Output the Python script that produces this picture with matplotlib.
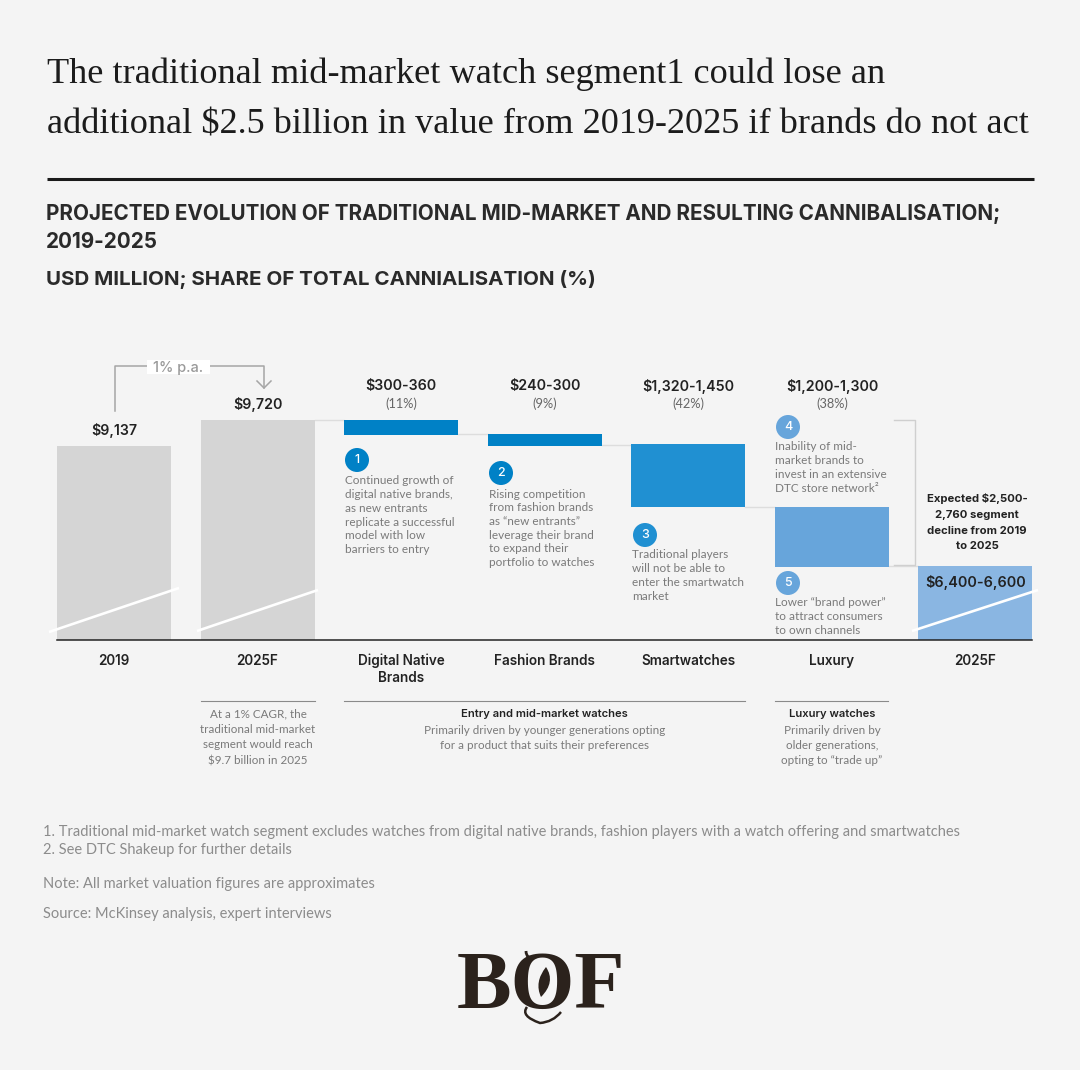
import matplotlib
matplotlib.use("Agg")
import matplotlib.pyplot as plt
from matplotlib.patches import Circle, PathPatch
from matplotlib.path import Path

# ---------- data ----------
categories = ["2019", "2025F", "Digital Native\nBrands", "Fashion Brands", "Smartwatches", "Luxury", "2025F"]
bar_tops = [9137, 9720, 9720, 9410, 9180, 7790, 6500]
bar_bottoms = [0, 0, 9390, 9155, 7790, 6480, 0]
bar_colors = ["#d5d5d5", "#d5d5d5", "#0081c6", "#0081c6", "#2090d2", "#67a5db", "#8ab6e2"]
value_labels = ["$9,137", "$9,720", "$300-360", "$240-300", "$1,320-1,450", "$1,200-1,300"]
share_labels = ["(11%)", "(9%)", "(42%)", "(38%)"]
final_label = "$6,400-6,600"
title_lines = ["The traditional mid-market watch segment1 could lose an",
               "additional $2.5 billion in value from 2019-2025 if brands do not act"]
heading_lines = ["PROJECTED EVOLUTION OF TRADITIONAL MID-MARKET AND RESULTING CANNIBALISATION;",
                 "2019-2025"]
subheading = "USD MILLION; SHARE OF TOTAL CANNIALISATION (%)"
notes = ["Continued growth of\ndigital native brands,\nas new entrants\nreplicate a successful\nmodel with low\nbarriers to entry",
         "Rising competition\nfrom fashion brands\nas “new entrants”\nleverage their brand\nto expand their\nportfolio to watches",
         "Traditional players\nwill not be able to\nenter the smartwatch\nmarket",
         "Inability of mid-\nmarket brands to\ninvest in an extensive\nDTC store network²",
         "Lower “brand power”\nto attract consumers\nto own channels"]
footnotes = ["1. Traditional mid-market watch segment excludes watches from digital native brands, fashion players with a watch offering and smartwatches",
             "2. See DTC Shakeup for further details"]
note_line = "Note: All market valuation figures are approximates"
source_line = "Source: McKinsey analysis, expert interviews"

# ---------- style ----------
W, H = 1080, 1070
BG = "#f4f4f4"
SANS = "Inter"
BODY = "Lato"
DARK = "#222222"
GREY = "#7a7a7a"
px = 0.72  # points per pixel at dpi 100

fig = plt.figure(figsize=(W / 100, H / 100), dpi=100, facecolor=BG)

# ---------- bar axes (px box 57..1032 x, 400..640 y) ----------
PITCH = 143.5
ax = fig.add_axes([57 / W, 1 - 640 / H, (1032 - 57) / W, 240 / H])
ax.set_facecolor("none")
ax.set_xlim(-(114 - 57) / PITCH, (1032 - 114) / PITCH)
SCALE = 0.0453
base = 9720 - 220 / SCALE
ax.set_ylim(base, base + 240 / SCALE)
xs = list(range(len(categories)))
for x, top, bot, col in zip(xs, bar_tops, bar_bottoms, bar_colors):
    b = max(bot, base)
    ax.bar(x, top - b, bottom=b, width=114 / PITCH, color=col, linewidth=0, zorder=2)
for s in ("left", "right", "top"):
    ax.spines[s].set_visible(False)
ax.spines["bottom"].set_color("#222222")
ax.spines["bottom"].set_linewidth(1.1)
ax.set_yticks([])
ax.set_xticks(xs)
ax.set_xticklabels(categories, fontsize=13.5 * px, fontfamily=SANS,
                   fontweight="semibold", color=DARK, linespacing=1.2)
ax.tick_params(axis="x", length=0, pad=10)
# connectors between waterfall steps
for i, lev in zip(range(1, 6), [9720, 9400, 9170, 7790, 6490]):
    ax.plot([i + 57 / PITCH, i + 1 - 57 / PITCH], [lev, lev], color="#dddddd", lw=1, zorder=1)

# ---------- overlay in pixel coordinates ----------
ov = fig.add_axes([0, 0, 1, 1], zorder=5)
ov.set_xlim(0, W)
ov.set_ylim(H, 0)
ov.axis("off")


def txt(x, y, s, size, family=SANS, weight="normal", color=DARK, ha="left", lh=None, **kw):
    for i, line in enumerate(s.split("\n")):
        ov.text(x, y + i * (lh or size * 1.2), line, fontsize=size * px, family=family,
                fontweight=weight, color=color, ha=ha, va="center", **kw)


# title, rule, headings
txt(47, 74.5, title_lines[0], 36.3, family="Liberation Serif", color="#1c1c1c")
txt(47, 124.5, title_lines[1], 36.3, family="Liberation Serif", color="#1c1c1c")
ov.plot([47, 1034], [179, 179], color="#1a1a1a", lw=2.2, solid_capstyle="butt")
txt(46, 213.5, heading_lines[0], 20.65, weight="bold", color="#2a2a2a")
txt(46, 241.5, heading_lines[1], 20.65, weight="bold", color="#2a2a2a")
txt(46, 279.5, subheading, 20.55, weight="bold", color="#2a2a2a")

# growth bracket
ov.plot([114.5, 114.5, 264, 264], [411, 366, 366, 388], color="#a5a5a5", lw=1.1)
ov.plot([257, 264, 271], [381, 388, 381], color="#a5a5a5", lw=1.1)
ov.add_patch(plt.Rectangle((147, 360), 63, 14, color="#ffffff", lw=0, zorder=3))
txt(178, 368, "1% p.a.", 14.5, color="#9a9a9a", ha="center", weight="medium", zorder=4)

# value labels
vl_pos = [(114, 430), (258, 405), (401, 386), (545, 386), (688, 386), (832, 386)]
for (x, y), s in zip(vl_pos, value_labels):
    txt(x, y, s, 14.2, weight="semibold", ha="center")
for (x, _), s in zip(vl_pos[2:], share_labels):
    txt(x, 404, s, 12.8, color="#666666", ha="center", family=BODY)
txt(975.5, 582, final_label, 14.4, weight="semibold", ha="center")
txt(977, 499, "Expected $2,500-\n2,760 segment\ndecline from 2019\nto 2025", 11.3, weight="bold",
    ha="center", lh=15.8)

# luxury bracket
ov.plot([894, 915, 915, 894], [420, 420, 565, 565], color="#cfcfcf", lw=1)

# slashes
for (x0, y0, x1, y1) in [(49, 632, 179, 588), (197, 631, 318, 590), (912, 631, 1038, 590)]:
    ov.plot([x0, x1], [y0, y1], color="white", lw=1.9, solid_capstyle="butt", zorder=3)

# numbered notes
circles = [(357, 460, "#0081c6"), (501, 473, "#0081c6"), (645, 535, "#2090d2"),
           (788, 427, "#67a5db"), (788, 583, "#67a5db")]
text_pos = [(345, 481), (489, 494), (632, 555), (775, 447), (775, 603)]
for i, ((cx, cy, col), (tx, ty), n) in enumerate(zip(circles, text_pos, notes)):
    ov.add_patch(Circle((cx, cy), 12, color=col, lw=0))
    txt(cx, cy + 0.3, str(i + 1), 12.5, color="white", ha="center", weight="medium")
    txt(tx, ty, n, 11.8, family=BODY, color=GREY, lh=13.7)

# lower notes
for a, b in [(201, 315), (344, 745), (775, 888)]:
    ov.plot([a, b], [700.5, 700.5], color="#8a8a8a", lw=0.8)
txt(258, 714, "At a 1% CAGR, the\ntraditional mid-market\nsegment would reach\n$9.7 billion in 2025", 11.6,
    family=BODY, color=GREY, ha="center", lh=15.5)
txt(544.5, 714, "Entry and mid-market watches", 11.2, weight="semibold", ha="center")
txt(544.5, 730, "Primarily driven by younger generations opting\nfor a product that suits their preferences", 11.6,
    family=BODY, color=GREY, ha="center", lh=15.5)
txt(832, 714, "Luxury watches", 11.2, weight="semibold", ha="center")
txt(832, 730, "Primarily driven by\nolder generations,\nopting to “trade up”", 11.6,
    family=BODY, color=GREY, ha="center", lh=15.5)

# footnotes
FOOT = "#8c8c8c"
txt(43, 832, footnotes[0], 14.65, family=BODY, color=FOOT)
txt(43, 850, footnotes[1], 14.65, family=BODY, color=FOOT)
txt(43, 884, note_line, 14.65, family=BODY, color=FOOT)
txt(43, 914, source_line, 14.65, family=BODY, color=FOOT)

# logo
LOGO = "#2b221c"
ov.text(541, 988, "BOF", fontsize=82 * px, family="Liberation Serif", fontweight="bold",
        color=LOGO, ha="center", va="center")
leaf = Path([(546, 967), (556, 982), (541, 997), (534, 982), (546, 967)],
            [Path.MOVETO, Path.CURVE3, Path.CURVE3, Path.CURVE3, Path.CURVE3])
ov.add_patch(PathPatch(leaf, color=LOGO, lw=0))
tail = Path([(527, 1007), (520, 1016), (540, 1023), (553, 1022), (561, 1012)],
            [Path.MOVETO, Path.CURVE3, Path.CURVE3, Path.CURVE3, Path.CURVE3])
ov.add_patch(PathPatch(tail, fill=False, edgecolor=LOGO, lw=1.8))
top = Path([(526, 951), (526, 960), (536, 957)], [Path.MOVETO, Path.CURVE3, Path.CURVE3])
ov.add_patch(PathPatch(top, fill=False, edgecolor=LOGO, lw=2))

fig.savefig("out.png", dpi=100, facecolor=BG)
